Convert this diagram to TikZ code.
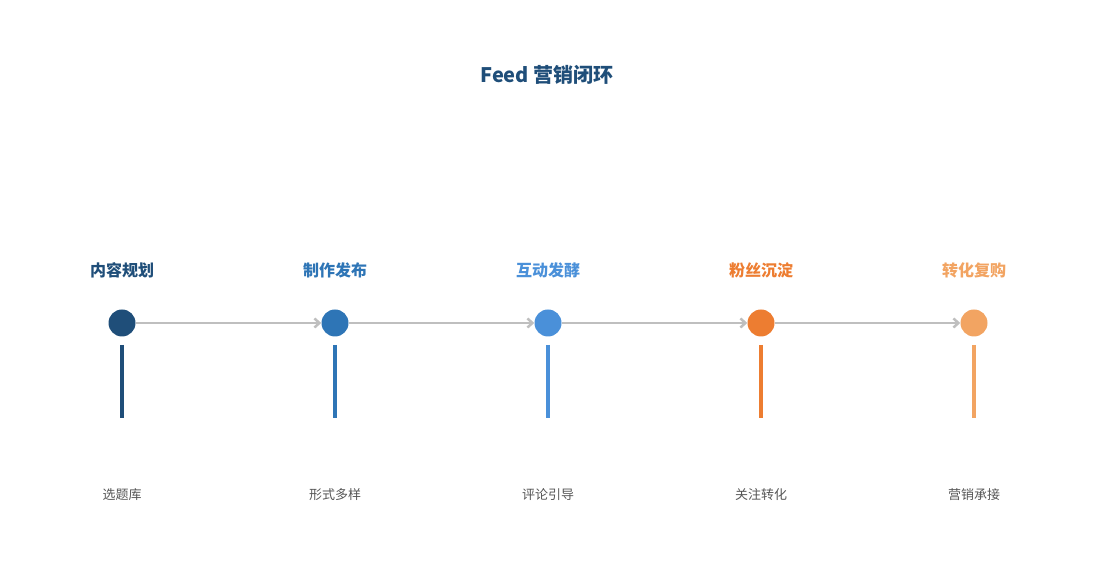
\documentclass[tikz,border=0pt]{standalone}
\usepackage{fontspec}
\setmainfont{Noto Sans CJK SC}
\usetikzlibrary{arrows.meta}
\definecolor{c1}{HTML}{1F4E79}
\definecolor{c2}{HTML}{2E75B6}
\definecolor{c3}{HTML}{4A90D9}
\definecolor{c4}{HTML}{ED7D31}
\definecolor{c5}{HTML}{F2A462}
\definecolor{ar}{HTML}{BFBFBF}
\definecolor{tx}{HTML}{555555}
\begin{document}
\begin{tikzpicture}[x=1pt,y=1pt,
 dot/.style={circle,fill=#1,minimum size=27pt,inner sep=0pt},
 head/.style={text=#1,font=\bfseries\fontsize{16}{18}\selectfont},
 sub/.style={text=tx,font=\fontsize{13}{15}\selectfont},
 stem/.style={draw=#1,line width=3.5pt},
 conn/.style={draw=ar,line width=2.5pt,-{Straight Barb[length=5pt,width=9pt]}}]
\useasboundingbox (0,0) rectangle (1095,585);
\node[text=c1,font=\bfseries\fontsize{20}{24}\selectfont] (t) at (547,510) {Feed 营销闭环};
\foreach \i/\x/\c/\h/\s in {1/122/c1/内容规划/选题库,2/335/c2/制作发布/形式多样,3/548/c3/互动发酵/评论引导,4/761/c4/粉丝沉淀/关注转化,5/974/c5/转化复购/营销承接}{
 \node[dot=\c] (d\i) at (\x,262) {};
 \node[head=\c] (h\i) at (\x,315) {\h};
 \node[sub] (s\i) at (\x,90) {\s};
 \coordinate (a\i) at (\x,240);
 \coordinate (b\i) at (\x,167);
 \draw[stem=\c] (a\i) -- (b\i);
}
\foreach \i/\j in {1/2,2/3,3/4,4/5}{
 \draw[conn] (d\i) -- (d\j);
}
\end{tikzpicture}
\end{document}
